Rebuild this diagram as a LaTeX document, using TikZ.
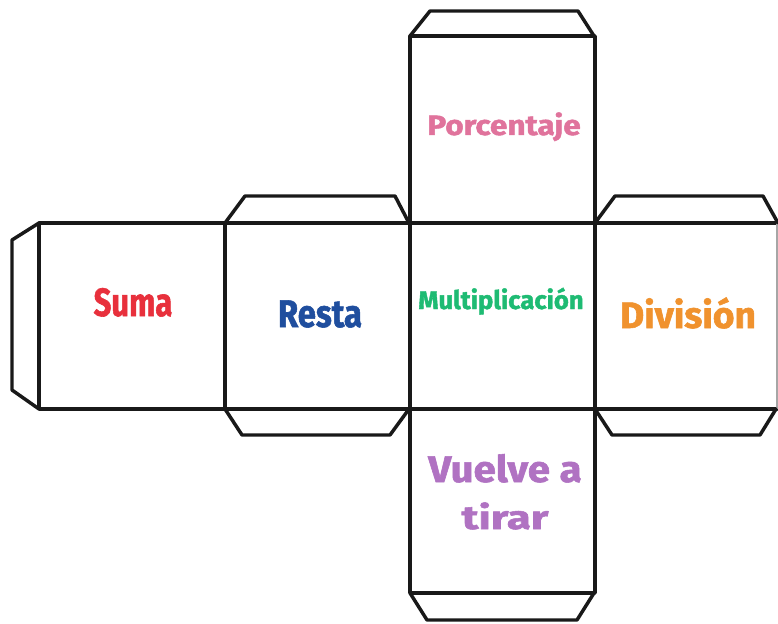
\documentclass[tikz,border=0pt]{standalone}
\usepackage{fontspec}
\setmainfont{Fira Sans}[BoldFeatures={FakeBold=1.5}]
\usepackage{graphicx}
\definecolor{cSuma}{HTML}{E8303C}
\definecolor{cResta}{HTML}{1F4E9E}
\definecolor{cMult}{HTML}{1EBB73}
\definecolor{cDiv}{HTML}{F0922E}
\definecolor{cPorc}{HTML}{E0739C}
\definecolor{cVuel}{HTML}{B072C2}
\newcommand{\lab}[3]{\resizebox{#1pt}{#2pt}{\bfseries #3}}
\begin{document}
\begin{tikzpicture}[x=0.75pt,y=-0.75pt,
  edge/.style={line width=2.6pt,line join=round,line cap=round,black!90},
  txt/.style={inner sep=0pt,anchor=base}]
\useasboundingbox[fill=white] (0,0) rectangle (778,624);
% horizontal strip
\draw[edge] (777,223) -- (39,223) -- (39,409) -- (777,409);
\draw[line width=1pt,black!35] (777,223) -- (777,409);
% vertical strip
\draw[edge] (410,36) rectangle (595,593);
\draw[edge] (225,223) -- (225,409);
% tabs
\draw[edge] (410,36) -- (430,11) -- (578,11) -- (594,36);
\draw[edge] (410,593) -- (427,620) -- (577,620) -- (594,593);
\draw[edge] (225,223) -- (245,196) -- (395,196) -- (409,223);
\draw[edge] (225,409) -- (242,435) -- (390,435) -- (409,409);
\draw[edge] (595,223) -- (615,196) -- (763,196) -- (778,223);
\draw[edge] (595,409) -- (612,435) -- (760,435) -- (776,409);
\draw[edge] (39,223) -- (12,240) -- (12,390) -- (39,409);
% labels
\node[txt,text=cPorc] (porc) at (504,135) {\lab{115}{17}{Porcentaje}};
\node[txt,text=cSuma] (suma) at (133,316) {\lab{59}{21}{Suma}};
\node[txt,text=cResta] (resta) at (320,327) {\lab{63}{20}{Resta}};
\node[txt,text=cMult] (mult) at (501,309) {\lab{124}{16}{Multiplicación}};
\node[txt,text=cDiv] (div) at (688,328) {\lab{102}{23}{División}};
\node[txt,text=cVuel] (vuel) at (505,482) {\lab{115}{21}{Vuelve a}};
\node[txt,text=cVuel] (tirar) at (505,529) {\lab{65}{20}{tirar}};
\end{tikzpicture}
\end{document}
